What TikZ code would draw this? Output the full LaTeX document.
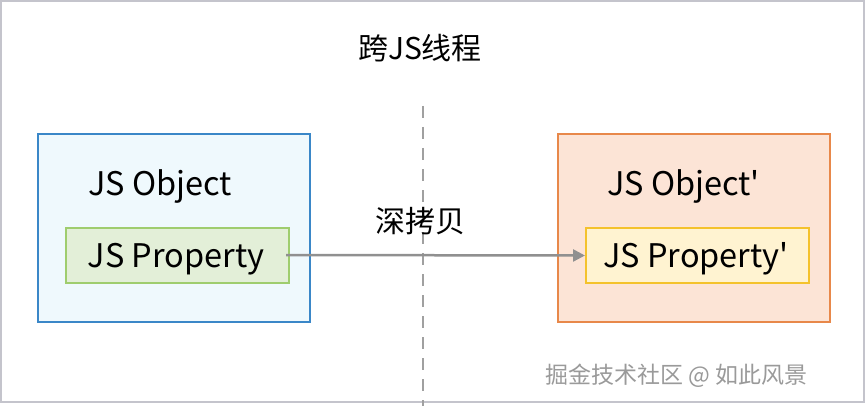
\documentclass[tikz,border=0pt]{standalone}
\usepackage{fontspec}
\setmainfont{Noto Sans CJK SC}
\usetikzlibrary{arrows.meta}
\definecolor{frame}{HTML}{C4C4CC}
\definecolor{blueline}{HTML}{3A87C8}
\definecolor{bluefill}{HTML}{EFF9FD}
\definecolor{greenline}{HTML}{9FCD6E}
\definecolor{greenfill}{HTML}{E3EFD8}
\definecolor{orangeline}{HTML}{E8884A}
\definecolor{orangefill}{HTML}{FCE4D6}
\definecolor{yellowline}{HTML}{F4C22C}
\definecolor{yellowfill}{HTML}{FFF3D1}
\definecolor{arrowgray}{HTML}{909090}
\definecolor{dashgray}{HTML}{A0A0A0}
\definecolor{markgray}{HTML}{9A9A9A}
\tikzset{
  outerbox/.style={draw, line width=2pt, minimum width=272pt, minimum height=188pt, anchor=north west, inner sep=0pt},
  innerbox/.style={draw, line width=2pt, minimum width=223pt, minimum height=55pt, anchor=north west, inner sep=0pt},
  cjk/.style={font=\fontsize{30}{34}\selectfont, inner sep=0pt},
  lbl/.style={font=\fontsize{32.5}{36}\selectfont, inner sep=0pt},
}
\begin{document}
\begin{tikzpicture}[x=1pt,y=-1pt]
\useasboundingbox (0,0) rectangle (866,406);
\fill[white] (0,0) rectangle (866,406);
\draw[frame, line width=2pt] (1,1) rectangle (864,402);
% title
\node[cjk] (title) at (420,48) {跨JS线程};
% dashed divider
\coordinate (dtop) at (423,106);
\coordinate (dbot) at (423,406);
\draw[dashgray, line width=2.5pt, dash pattern=on 12pt off 9pt] (dtop) -- (dbot);
% left
\node[outerbox, draw=blueline, fill=bluefill] (lo) at (37,133) {};
\node[innerbox, draw=greenline, fill=greenfill] (li) at (65,227) {};
\node[lbl, anchor=base west] (lot) at (88,195) {JS Object};
\node[lbl, anchor=base] (lit) at (176,267) {JS Property};
% right
\node[outerbox, draw=orangeline, fill=orangefill] (ro) at (557,133) {};
\node[innerbox, draw=yellowline, fill=yellowfill] (ri) at (585,227) {};
\node[lbl, anchor=base west] (rot) at (607,195) {JS Object\textquotesingle};
\node[lbl, anchor=base] (rit) at (696,267) {JS Property\textquotesingle};
% arrow
\coordinate (astart) at (286,255);
\draw[arrowgray, line width=2.5pt, -{Triangle[length=12pt,width=12pt]}] (astart) -- (ri.west);
\node[cjk] (copy) at (420,221) {深拷贝};
% watermark
\node[font=\fontsize{23}{26}\selectfont, text=markgray, inner sep=0pt, anchor=east] (wm) at (808,376) {掘金技术社区 @ 如此风景};
\end{tikzpicture}
\end{document}
